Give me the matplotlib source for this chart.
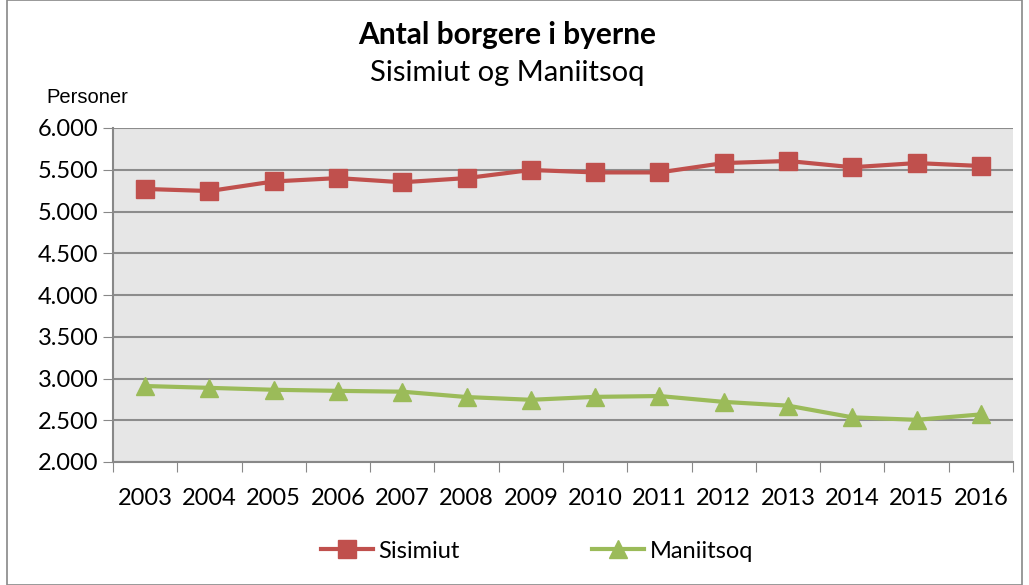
import matplotlib.pyplot as plt
from matplotlib.patches import Rectangle
from matplotlib.ticker import FuncFormatter

years = [2003, 2004, 2005, 2006, 2007, 2008, 2009, 2010, 2011, 2012, 2013, 2014, 2015, 2016]
sisimiut = [5270, 5245, 5360, 5400, 5350, 5400, 5497, 5468, 5468, 5580, 5605, 5530, 5580, 5545]
maniitsoq = [2910, 2888, 2865, 2852, 2842, 2778, 2745, 2780, 2790, 2720, 2675, 2535, 2505, 2570]

font = 'Lato'
fig = plt.figure(figsize=(10.29, 5.85), dpi=100)
ax = fig.add_axes([113/1029, 123/585, 900/1029, 334/585])
ax.set_facecolor('#e6e6e6')

x = list(range(len(years)))
ax.plot(x, sisimiut, color='#c0504d', lw=3, marker='s', ms=13, label='Sisimiut')
ax.plot(x, maniitsoq, color='#9bbb59', lw=3, marker='^', ms=13, label='Maniitsoq')

ax.set_xlim(-0.5, len(years) - 0.5)
ax.set_ylim(2000, 6000)
ax.set_yticks(range(2000, 6001, 500))
ax.yaxis.set_major_formatter(FuncFormatter(lambda v, p: f'{int(v):,}'.replace(',', '.')))
ax.set_xticks([i - 0.5 for i in range(len(years) + 1)], minor=False)
ax.set_xticklabels([])
ax.set_xticks(x, minor=True)
ax.set_xticklabels([str(y) for y in years], minor=True, fontsize=17, family=font)
ax.tick_params(axis='x', which='minor', length=0, pad=19)
ax.tick_params(axis='x', which='major', length=7, color='#888888')
ax.tick_params(axis='y', length=7, color='#888888', labelsize=17)
for lab in ax.get_yticklabels():
    lab.set_family(font)
ax.grid(axis='y', color='#8c8c8c', lw=1.5)
ax.set_axisbelow(True)
for s in ['top', 'right']:
    ax.spines[s].set_visible(False)
for s in ['left', 'bottom']:
    ax.spines[s].set_color('#888888')
    ax.spines[s].set_linewidth(1.5)

fig.text(0.493, 0.94, 'Antal borgere i byerne', ha='center', va='center',
         fontsize=21.5, fontweight='bold', family=font)
fig.text(0.493, 0.875, 'Sisimiut og Maniitsoq', ha='center', va='center',
         fontsize=21, family=font)
fig.text(87/1029, 0.833, 'Personer', ha='center', va='center',
         fontsize=14.5, family='Liberation Sans')

fig.legend(loc='center', bbox_to_anchor=(0.522, 0.058), ncol=2, frameon=False,
           prop={'family': font, 'size': 17}, columnspacing=5.6, handlelength=2.2,
           handletextpad=0.25)

fig.patches.append(Rectangle((7/1029, 0), 1015/1029, 1, transform=fig.transFigure,
                             fill=False, edgecolor='#888888', lw=1.2))

fig.savefig('out.png', dpi=100)
